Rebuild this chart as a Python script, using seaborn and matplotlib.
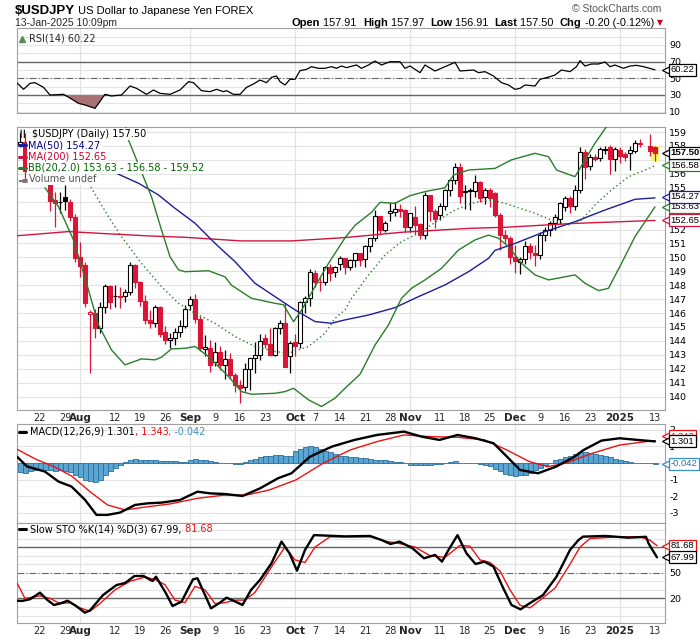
import numpy as np
import pandas as pd
import matplotlib
matplotlib.use("Agg")
import matplotlib.pyplot as plt
import seaborn as sns
from matplotlib.transforms import blended_transform_factory as blend

sns.set_theme(style="white")
plt.rcParams['font.family'] = ['DejaVu Sans']
nan = float('nan')

# ---------------- data ----------------
opens = [158.1,158.3,156.2,157.4,
         157.5,157.0,155.6,154.1,153.95,
         154.36,154.0,152.87,150.05,149.45,
         145.9,146.03,144.9,146.46,147.95,
         147.2,147.25,147.2,147.5,149.45,
         148.2,146.9,145.5,145.27,146.4,
         144.67,144.07,144.2,144.62,145.07,
         146.6,147.0,145.6,143.45,143.5,
         142.5,143.2,142.3,142.7,141.55,
         140.84,140.7,142.0,142.76,143.0,
         144.2,143.8,143.0,144.96,145.27,
         142.9,143.9,143.83,146.78,147.07,
         148.9,148.25,148.2,149.34,148.97,
         149.5,149.93,149.33,149.81,150.3,
         149.86,150.84,151.37,152.97,152.0,
         153.16,153.28,153.45,153.4,152.16,
         152.9,152.4,151.6,154.48,153.33,
         153.04,153.7,154.83,155.55,156.5,
         154.72,154.76,154.76,155.4,154.36,
         154.83,154.6,153.04,151.6,151.37,
         150.0,149.7,149.86,150.8,150.34,
         150.17,151.6,151.97,152.45,152.75,
         153.6,154.24,153.69,154.84,157.6,
         156.58,157.18,157.1,157.73,
         157.9,157.04,157.7,157.4,
         157.47,157.66,158.2,nan,158.0,
         157.91]
highs = [158.9,158.9,157.6,157.9,
         157.7,157.2,155.9,154.7,154.7,
         155.2,154.2,153.1,151.1,149.7,
         146.2,146.3,146.8,148.1,148.05,
         148.0,147.9,147.7,149.7,149.5,
         148.3,147.3,146.2,146.6,146.5,
         145.1,144.6,144.9,145.5,146.6,
         147.2,147.4,145.8,144.4,144.1,
         143.9,143.6,143.35,143.1,141.7,
         141.2,142.4,142.8,143.9,144.5,
         144.5,144.9,145.0,145.5,146.7,
         144.0,144.5,146.9,147.2,149.2,
         149.1,148.6,149.4,149.5,149.4,
         150.1,149.95,149.9,150.3,150.3,
         150.9,151.4,153.4,153.0,152.6,
         153.9,153.95,153.8,153.5,153.2,
         153.7,152.5,154.7,154.5,153.5,
         153.9,154.9,155.6,156.75,156.75,
         155.2,155.0,155.9,155.5,155.0,
         155.0,154.7,153.2,152.0,151.5,
         150.9,150.0,151.2,151.0,150.9,
         151.8,152.2,152.6,153.1,154.0,
         154.4,154.4,155.2,157.9,157.8,
         157.4,157.4,157.95,158.0,
         158.1,157.9,157.9,157.6,
         158.0,158.4,158.5,nan,158.85,
         157.97]
lows = [157.9,155.4,155.7,157.0,
        156.8,155.5,153.3,152.2,153.2,
        153.4,152.6,149.7,148.6,146.4,
        141.7,144.2,144.6,146.0,146.3,
        146.4,146.35,146.8,147.3,147.8,
        146.5,145.2,144.9,145.0,144.3,
        143.8,143.5,143.7,144.3,144.9,
        146.2,145.3,143.3,142.9,141.8,
        142.2,141.9,141.3,141.3,140.3,
        139.55,140.4,140.5,141.7,142.6,
        143.5,142.9,142.9,144.5,142.1,
        141.7,142.9,143.5,146.0,146.5,
        147.9,147.6,148.0,148.3,148.6,
        149.1,148.8,149.1,149.3,149.4,
        149.3,150.4,151.2,151.6,151.8,
        152.6,153.0,152.9,151.8,151.8,
        151.7,151.3,151.3,152.6,152.1,
        152.7,153.4,154.4,155.3,153.9,
        153.5,153.4,154.3,154.0,153.8,
        153.6,152.9,150.5,151.0,149.5,
        148.86,148.8,149.5,149.9,149.4,
        149.9,151.2,151.5,152.0,152.4,
        153.3,153.2,153.4,154.6,155.6,
        156.3,156.9,156.9,157.4,
        156.0,156.2,156.8,156.9,
        156.3,157.5,157.9,nan,157.3,
        156.91]
closes = [158.3,156.2,157.4,157.5,
          157.0,155.7,154.07,153.9,154.0,
          154.02,152.87,149.93,149.38,146.7,
          146.05,144.9,146.46,147.95,146.82,
          147.25,147.13,147.5,149.45,148.2,
          146.9,145.5,145.27,146.4,144.5,
          144.07,144.2,144.62,145.07,146.3,
          147.0,145.6,143.5,143.55,142.3,
          143.2,142.3,142.7,141.55,140.84,
          140.6,142.0,142.76,143.0,144.0,
          143.76,143.0,144.96,145.27,142.16,
          143.83,143.6,146.8,147.07,148.93,
          148.25,148.2,149.34,148.9,149.33,
          149.93,149.33,149.81,150.29,149.8,
          150.84,151.37,152.97,152.0,152.44,
          153.33,153.45,153.35,152.16,153.16,
          152.3,151.6,154.48,153.33,152.75,
          153.7,154.83,155.55,156.5,154.43,
          154.76,154.78,155.4,154.28,154.83,
          154.24,153.04,151.6,151.37,150.0,
          149.76,149.86,150.8,150.4,150.17,
          151.6,151.97,152.45,152.92,153.88,
          154.24,153.69,154.84,157.6,156.46,
          157.18,157.04,157.75,157.77,
          157.04,157.75,157.3,157.18,
          157.7,158.19,158.14,nan,157.66,
          157.5]

# indicator lines (bar index, value)
ma50_x = [15,19,23.7,27.7,31,35,39,43,47,51,55,59,62.3,65,69.7,75,79.7,85,89.7,93.7,95,99,105,111,117,123,127]
ma50_v = [156.8,156.08,155.32,154.48,153.52,152.45,151.01,149.69,148.14,147.18,146.23,145.39,145.27,145.51,145.86,146.39,147.18,148.02,148.97,149.93,150.5,151.0,151.85,152.56,153.4,154.17,154.27]
ma200_x = [-1,9.7,15.7,25.7,33,44.3,54.3,65,76.3,89.7,97,111,127]
ma200_v = [151.54,151.85,151.73,151.54,151.44,151.18,151.18,151.42,151.8,152.08,152.16,152.44,152.65]
bbu_x = [21,21.7,26.3,28.3,30,31.7,33,37.7,41,42.3,46.3,51,52.7,54.7,56.3,59,61.7,65,67,70.3,72,75,78,81,85,86.7,89.7,95,98.3,103,105.7,107.3,111,113,115,117.3,118]
bbu_v = [159.6,158.43,154.35,151.97,150.05,149.1,148.97,149.04,148.6,148.0,147.06,146.7,146.6,145.38,146.2,147.9,149.57,151.4,152.3,153.23,153.95,153.88,154.43,154.72,155.0,155.91,156.27,156.39,157.0,157.47,157.23,156.27,155.79,157.0,158.2,159.38,159.8]
bbm_x = [10,13.7,17.7,20.3,24.3,28.3,31.7,35,39,43,47,51,53.7,57.7,61,63,65,66.3,69.7,73,76.3,80.3,83.7,87,91,94.3,97,99,103,106.3,109.7,112.3,115,118.3,121.7,125,127]
bbm_v = [156.5,155.32,152.92,151.49,149.57,147.9,146.7,145.99,145.27,144.31,143.6,143.24,143.12,143.6,144.55,145.62,146.23,147.06,148.73,150.17,151.13,151.84,152.68,153.4,153.95,154.12,153.88,153.64,153.16,152.68,152.32,152.68,153.76,154.84,155.79,156.27,156.58]
bbl_x = [5,7.7,10.7,13.3,15.7,18.3,21,24.3,27,28.3,30.3,33,35,37.7,39.7,41.7,44.3,46.3,51,53,54.7,57.7,60.3,63,65,68,71,73.7,76.3,78.3,81,84.3,87.7,91,93.7,95.7,97.7,100.3,103,105.7,111,113,115.7,117.7,120.3,123,127]
bbl_v = [155.0,153.64,151.25,148.14,145.15,143.35,142.28,142.71,142.64,142.83,143.43,143.47,143.6,142.88,142.16,141.44,140.36,140.17,140.24,140.36,140.6,139.77,139.29,139.89,140.6,141.6,143.7,145.15,147.06,147.78,148.38,149.21,150.53,151.25,151.6,151.37,150.77,149.57,148.74,148.38,148.74,148.14,147.61,147.78,149.57,151.49,153.63]

rsi_x = [-0.5,0.7,2,3,4.7,6,8.7,10.3,11.7,13,15,17,18.3,20.3,22,23.3,25.3,26.7,28,30,32,33.7,34.7,36.3,38,39.3,40.7,41.3,42.7,44,45.3,46.7,48,49.3,50.3,51.3,52,53,54,55,56,57.3,58.3,59.7,61,62.3,63.3,64.3,65.3,66,67.3,68.3,69.7,71,72.3,74,76,77,78,80,81,83,85,87,88,90.7,91.7,93,94.7,96.3,97.7,99,100,101,103,104,106,107,108.3,110,111.3,112,113,114.3,115.7,117,118,119,120.7,122,123.3,124.7,127]
rsi_v = [44,36.8,44,44.8,39.2,30,30.8,25.2,20,18,14,30.8,28.8,30,40.8,38,30.8,36,32,30.8,36,46,44.8,35.2,34,36.8,34,35.2,30.8,30.8,39.2,43.2,48,44.8,51.2,52.8,46,42,48.8,48.8,59.2,60.8,64,62,62,64,62,64.8,62.8,64,66,62,66,70.8,66,70,70,62,64.8,56.8,66,58.8,64,69.2,58.8,60,56.8,58,52.8,44.8,42,36.8,38,42,40.8,48.8,52,54,60,58,64,71.2,64.8,67.2,67.2,69.6,64,66,62,64.8,65.6,64,60.22]

macd_x = [-0.6,1.4,5,7.7,10.3,13,15.3,17.5,20,23,25.6,28.3,32,35.5,38,40.9,44.5,48,51.6,54.3,58,62.4,66.9,71.4,76.8,80.3,83.9,87.5,91.1,94.7,97.4,100,103.6,107.3,110.9,112.7,116.3,119.9,123.5,127]
macd_v = [0.38,-0.21,-0.52,-1.12,-1.42,-2.22,-3.13,-3.13,-2.99,-2.53,-2.43,-2.39,-2.23,-1.73,-1.83,-1.87,-1.99,-1.53,-0.92,-0.62,0.38,0.99,1.39,1.69,1.89,1.59,1.39,1.69,1.49,1.19,0.38,-0.42,-0.62,-0.21,0.38,0.78,1.35,1.49,1.39,1.301]
sig_x = [-0.6,3.2,6.8,10.3,14,17.5,21,24.7,30,35.5,41,45.3,49.8,55.2,60.6,66,71.4,76.8,82,87.5,92.9,97.4,101.9,105.5,109,114.4,119.9,125.2,127]
sig_v = [0.83,0.22,-0.22,-0.78,-1.73,-2.53,-2.83,-2.67,-2.47,-2.13,-1.93,-1.93,-1.63,-1.02,-0.02,0.78,1.29,1.69,1.59,1.55,1.39,0.78,0.08,-0.22,-0.02,0.58,1.08,1.29,1.343]
hist = [-0.55,-0.6,-0.5,-0.45,-0.4,-0.4,-0.45,-0.5,-0.45,-0.5,-0.55,-0.7,
        -0.85,-1.0,-1.1,-1.15,-1.0,-0.7,-0.5,-0.3,-0.1,0.05,0.2,0.25,
        0.2,0.2,0.15,0.15,0.1,0.1,0.1,0.1,0.05,0.05,0.15,0.25,
        0.2,0.15,0.1,0.05,0.0,0.0,-0.02,-0.05,-0.05,0.05,0.15,0.25,
        0.35,0.4,0.45,0.5,0.5,0.4,0.45,0.7,0.85,0.95,1.0,0.95,
        0.85,0.75,0.65,0.55,0.45,0.4,0.35,0.35,0.3,0.3,0.25,0.2,
        0.2,0.15,0.1,0.05,0.05,0.0,-0.1,-0.15,-0.15,-0.1,-0.1,-0.05,
        -0.05,0.0,0.05,0.1,0.0,-0.02,0.0,0.0,-0.05,-0.1,-0.2,-0.35,
        -0.5,-0.65,-0.75,-0.8,-0.75,-0.7,-0.6,-0.45,-0.3,-0.15,0.0,0.15,
        0.25,0.35,0.45,0.55,0.65,0.65,0.6,0.55,0.5,0.4,0.35,0.25,
        0.2,0.1,0.05,0.02,0.0,-0.02,-0.03,-0.042]

stok_x = [-0.6,0.4,2,4,5.5,6.8,8,9.5,11,13,14,16.6,19.3,21,22.9,24.7,26.5,27.2,29.2,30.5,32.3,34.6,35.5,38.2,40,41.3,42.7,44.5,46.2,48,50.3,52.3,53.9,55.4,57,58.8,65,70,72.3,74.1,75.9,78.5,80.8,83,84.4,85.7,87.5,89.3,91.1,92.9,94.7,96.5,98.3,100.1,101.9,104.6,107.3,110,111.7,112.6,117.1,121.6,125.2,125.7,127.4]
stok_v = [17.3,17,19,26.7,18,12.3,14,17.3,12,3.3,6,23.9,35.6,38,46.2,46.2,40.3,45.4,25.9,11.1,16.2,42.3,43.5,8.4,15,20.9,17.3,12.3,29.9,41.6,61.1,86.4,72.7,52.4,76.6,94,92.5,93,88.3,83.6,86.4,78.6,66.9,70.8,63,76.6,94,72.7,60.2,63,57.1,33.8,12.3,7.2,14.2,23.9,45.4,76.6,88.3,92.2,93,91,92,84.4,67.99]
stod_x = [-0.6,1,4,6,8,10,12,14,16,19,22,25,27,29,31,33,35,37,39,41,43,45,47,49,51,53,55,57,59,62,70,73,76,79,82,85,88,90,92,94,96,98,100,102,104,107,110,112,114,120,124,126,127.4]
stod_v = [38,20,23,20,14,15,9,5,14,30,40,45,42,36,18,15,34,30,14,15,18,18,27,45,63,80,65,62,80,92,92,87,84,80,70,68,82,81,65,62,52,30,12,9,18,32,60,80,90,92,92,88,81.68]

month_idx = [12, 34, 55, 78, 99, 120]
tick_idx = [4, 9, 12, 19, 24, 29, 34, 39, 44, 49, 55, 59, 64, 69, 74, 78, 84, 89, 94, 99, 104, 109, 114, 120, 127]
tick_lab = ['22', '29', 'Aug', '12', '19', '26', 'Sep', '9', '16', '23', 'Oct', '7', '14', '21', '28',
            'Nov', '11', '18', '25', 'Dec', '9', '16', '23', '2025', '13']
bold_labels = {'Aug', 'Sep', 'Oct', 'Nov', 'Dec', '2025'}

# ---------------- figure ----------------
W, H = 700, 639
fig = plt.figure(figsize=(W / 100, H / 100), dpi=100)
fig.patch.set_facecolor('white')
LX, RX = 17, 665
XMIN, XMAX = -0.6, 129.0
RED = '#dc1438'
GRID = '#e3e3e3'
SPINE = '#a0a0a0'
TAGFONT = 'Liberation Sans'


def panel(top, bottom, ylim, yticks):
    ax = fig.add_axes([LX / W, 1 - bottom / H, (RX - LX) / W, (bottom - top) / H])
    ax.set_facecolor('white')
    ax.set_xlim(XMIN, XMAX)
    ax.set_ylim(*ylim)
    for s in ax.spines.values():
        s.set_color(SPINE)
        s.set_linewidth(0.8)
    ax.yaxis.tick_right()
    ax.set_yticks(yticks)
    ax.set_yticklabels([str(v) for v in yticks])
    ax.tick_params(axis='y', length=0, pad=3, labelsize=6.8, labelcolor='black')
    ax.set_xticks([])
    ax.grid(False)
    for m in month_idx:
        ax.axvline(m, color=GRID, lw=0.9, zorder=0)
    return ax


def tag(ax, y, text, color, tcolor=None, bold=False, z=20):
    tr = blend(ax.transAxes, ax.transData)
    ax.plot([1.0 + 2.0 / 648], [y], marker='<', ms=6.5, mfc='white', mec=color, mew=0.9,
            transform=tr, clip_on=False, zorder=z - 1)
    ax.text(1.0 + 5.5 / 648, y, text, transform=tr, ha='left', va='center', fontsize=6.8,
            family=TAGFONT, color=tcolor or color, fontweight='bold' if bold else 'normal',
            bbox=dict(boxstyle='square,pad=0.16', fc='white', ec=color, lw=0.9),
            zorder=z, clip_on=False)


def line(ax, xs, ys, color, lw=1.0, ls='-', z=5):
    df = pd.DataFrame({'x': xs, 'y': ys})
    sns.lineplot(data=df, x='x', y='y', ax=ax, color=color, lw=lw, linestyle=ls,
                 zorder=z, sort=False, estimator=None, legend=False)
    ax.set_xlabel('')
    ax.set_ylabel('')


def xlabels(ax):
    ax.set_xticks(tick_idx)
    ax.set_xticklabels(tick_lab)
    ax.tick_params(axis='x', length=0, pad=2.5, labelsize=7)
    for t in ax.get_xticklabels():
        if t.get_text() in bold_labels:
            t.set_fontweight('bold')
            t.set_fontsize(7.5)
    ax.set_xticks(np.arange(0, 129), minor=True)
    ax.tick_params(axis='x', which='minor', length=2, width=0.6, color='#b0b0b0', direction='out')


renderer = fig.canvas.get_renderer()


def seq(x, y, parts):
    for s, color, weight, size, fam in parts:
        t = fig.text(x / W, 1 - y / H, s, color=color, fontweight=weight, fontsize=size,
                     family=fam, ha='left', va='center')
        bb = t.get_window_extent(renderer)
        x = bb.x1 * 100 / fig.dpi


# ---- RSI panel ----
axr = panel(28, 113, (8.4, 110.4), [90, 70, 50, 30, 10])
for v in range(10, 101, 10):
    axr.axhline(v, color=GRID, lw=0.8, zorder=0)
axr.axhline(70, color='#666666', lw=1.0, zorder=1)
axr.axhline(30, color='#666666', lw=1.0, zorder=1)
axr.axhline(50, color='#666666', lw=0.8, ls=(0, (6, 2, 1, 2)), zorder=1)
rx = np.array(rsi_x)
rv = np.array(rsi_v)
axr.fill_between(rx, rv, 30, where=rv < 30, interpolate=True, color='#a87272', zorder=2, lw=0)
line(axr, rsi_x, rsi_v, 'black', lw=0.9)
tag(axr, 60.22, '60.22', 'black')
axr.text(0.018, 0.93, 'RSI(14) 60.22', transform=axr.transAxes, fontsize=7, va='top', ha='left')
axr.plot([0.008], [0.87], transform=axr.transAxes, marker='^', ms=5, color='#5a8a5a', clip_on=False)

# ---- main price panel ----
pt = list(range(140, 160))
axm = panel(127, 410, (139.04, 159.36), pt)
axm.set_yticklabels(['' if v in (153, 154, 157) else str(v) for v in pt])
for v in pt:
    axm.axhline(v, color=GRID, lw=0.8, zorder=0)
xlabels(axm)

idx = np.arange(len(closes))
O = np.array(opens); Hh = np.array(highs); Ll = np.array(lows); C = np.array(closes)
axm.bar(idx[-1], Hh[-1] - Ll[-1], bottom=Ll[-1], width=1.5, color='#fff36a', zorder=2, lw=0)
prev = np.nan
for i in idx:
    if np.isnan(C[i]):
        continue
    col = 'black' if (np.isnan(prev) or C[i] >= prev) else RED
    face = 'white' if C[i] >= O[i] else col
    axm.vlines(i, Ll[i], Hh[i], color=col, lw=0.9, zorder=3)
    hgt = max(abs(C[i] - O[i]), 0.05)
    axm.bar(i, hgt, bottom=min(O[i], C[i]), width=0.76, facecolor=face, edgecolor=col,
            lw=0.8, zorder=4)
    prev = C[i]

GREEN = '#2a7d2a'
line(axm, ma200_x, ma200_v, '#d4143c', lw=1.0, z=5)
line(axm, ma50_x, ma50_v, '#1c1c9c', lw=1.0, z=5)
line(axm, bbu_x, bbu_v, GREEN, lw=1.0, z=5)
line(axm, bbl_x, bbl_v, GREEN, lw=1.0, z=5)
line(axm, bbm_x, bbm_v, GREEN, lw=1.0, ls=(0, (1, 2)), z=5)

tag(axm, 157.50, '157.50', 'black', bold=True, z=26)
tag(axm, 156.62, '156.58', GREEN, tcolor='black', z=25)
tag(axm, 154.36, '154.27', '#1c1c9c', tcolor='black', z=24)
tag(axm, 153.62, '153.63', GREEN, tcolor='black', z=23)
tag(axm, 152.65, '152.65', '#d4143c', tcolor='black', z=22)

leg = [('$USDJPY (Daily) 157.50', 'black', None, 32),
       ('MA(50) 154.27', '#000080', '#1c1c9c', 28.5),
       ('MA(200) 152.65', '#cc0033', '#d4143c', 28.5),
       ('BB(20,2.0) 153.63 - 156.58 - 159.52', '#006400', GREEN, 28.5),
       ('Volume undef', '#555555', None, 29)]
for k, (s, c, dash, x0) in enumerate(leg):
    yy = 134 + k * 11.3
    fig.text(x0 / W, 1 - yy / H, s, fontsize=7, color=c, va='center', ha='left',
             bbox=dict(boxstyle='square,pad=0.12', fc='white', ec='none'), zorder=30)
    if dash:
        fig.add_artist(plt.Line2D([19 / W, 25.5 / W], [1 - yy / H, 1 - yy / H], color=dash, lw=2.2, zorder=31))
fig.text(18.5 / W, 1 - 134 / H, '\u2503\u2503', fontsize=5, color='black', va='center', ha='left', zorder=31)
fig.text(18.5 / W, 1 - 179.2 / H, '\u2583\u2585', fontsize=4.5, color='#777777', va='center', ha='left', zorder=31)

# ---- MACD panel ----
axc = panel(424, 522.7, (-3.6, 2.35), [2, 1, -1, -2, -3])
for v in [2, 1, 0, -1, -2, -3]:
    axc.axhline(v, color=GRID, lw=0.8, zorder=0)
axc.bar(np.arange(len(hist)), hist, width=1.0, color='#5aa5d2', edgecolor='#2a6f9e', lw=0.6, zorder=2)
line(axc, sig_x, sig_v, '#ee1111', lw=1.0, z=5)
line(axc, macd_x, macd_v, 'black', lw=1.7, z=6)
tag(axc, 1.62, '1.343', '#ee1111', z=21)
tag(axc, 1.301, '1.301', 'black', z=22)
tag(axc, -0.042, '-0.042', '#3a8fc8', tcolor='#2a6f9e', z=23)
fig.add_artist(plt.Line2D([19 / W, 26 / W], [1 - 431.7 / H] * 2, color='black', lw=2.2))
seq(30, 431.7, [('MACD(12,26,9) 1.301', 'black', 'normal', 7, 'DejaVu Sans'),
                (', 1.343', '#ee1111', 'normal', 7, 'DejaVu Sans'),
                (', -0.042', '#3a8fc8', 'normal', 7, 'DejaVu Sans')])

# ---- Slow STO panel ----
axs = panel(522.7, 622.7, (-8.4, 108.5), [50, 20])
for v in range(0, 101, 10):
    axs.axhline(v, color=GRID, lw=0.8, zorder=0)
axs.axhline(80, color='#666666', lw=1.0, zorder=1)
axs.axhline(20, color='#666666', lw=1.0, zorder=1)
axs.axhline(50, color='#666666', lw=0.8, ls=(0, (6, 2, 1, 2)), zorder=1)
line(axs, stod_x, stod_v, '#ee1111', lw=1.0, z=5)
line(axs, stok_x, stok_v, 'black', lw=1.7, z=6)
xlabels(axs)
tag(axs, 81.68, '81.68', '#ee1111', tcolor='black', z=21)
tag(axs, 67.99, '67.99', 'black', z=22)
fig.add_artist(plt.Line2D([19 / W, 26 / W], [1 - 529 / H] * 2, color='black', lw=2.2))
seq(30, 529, [('Slow STO %K(14) %D(3) 67.99,', 'black', 'normal', 7, 'DejaVu Sans'),
              (' 81.68', '#ee1111', 'normal', 7, 'DejaVu Sans')])

# ---- header ----
seq(15, 10.5, [('$USDJPY', 'black', 'bold', 9.5, 'Liberation Sans'),
               (' US Dollar to Japanese Yen FOREX', 'black', 'normal', 8, 'Liberation Sans')])
fig.text(15 / W, 1 - 23 / H, '13-Jan-2025 10:09pm', fontsize=7.5, family='Liberation Sans', va='center')
seq(292, 23, [('Open', 'black', 'bold', 8, 'Liberation Sans'),
              (' 157.91  ', 'black', 'normal', 7.8, 'Liberation Sans'),
              ('High', 'black', 'bold', 8, 'Liberation Sans'),
              (' 157.97  ', 'black', 'normal', 7.8, 'Liberation Sans'),
              ('Low', 'black', 'bold', 8, 'Liberation Sans'),
              (' 156.91  ', 'black', 'normal', 7.8, 'Liberation Sans'),
              ('Last', 'black', 'bold', 8, 'Liberation Sans'),
              (' 157.50  ', 'black', 'normal', 7.8, 'Liberation Sans'),
              ('Chg', 'black', 'bold', 8, 'Liberation Sans'),
              (' -0.20 (-0.12%) ', 'black', 'normal', 7.8, 'Liberation Sans'),
              ('\u25BC', '#cc0022', 'normal', 5.5, 'DejaVu Sans')])
fig.text(661 / W, 1 - 9 / H, '\u00A9 StockCharts.com', fontsize=7.5, color='#555555',
         family='Liberation Sans', ha='right', va='center')

fig.savefig('out.png', dpi=100, facecolor='white')
